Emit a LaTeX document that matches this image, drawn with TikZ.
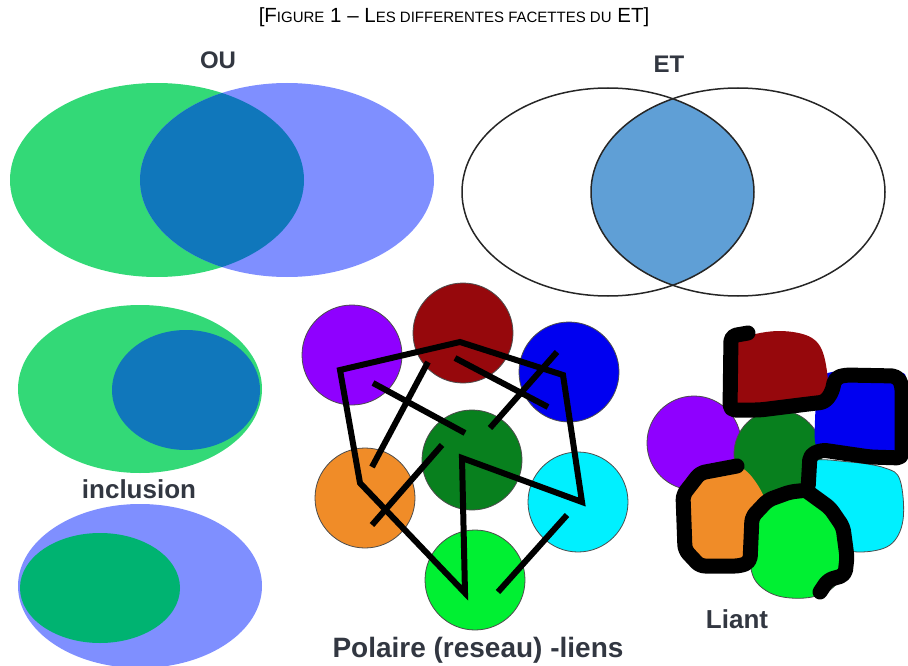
\documentclass[tikz,border=0pt]{standalone}
\usepackage{fontspec}
\setmainfont{Liberation Sans}
\definecolor{ougreen}{RGB}{51,217,119}
\definecolor{oublue}{RGB}{127,143,255}
\definecolor{ouover}{RGB}{16,119,187}
\definecolor{etfill}{RGB}{95,159,214}
\definecolor{botgreen}{RGB}{0,179,113}
\definecolor{cpurple}{RGB}{143,0,255}
\definecolor{cred}{RGB}{150,8,12}
\definecolor{cblue}{RGB}{0,0,240}
\definecolor{cdkgreen}{RGB}{8,128,30}
\definecolor{corange}{RGB}{240,140,40}
\definecolor{ccyan}{RGB}{0,240,255}
\definecolor{clgreen}{RGB}{0,240,50}
\definecolor{labelgray}{RGB}{50,55,65}
\begin{document}
\begin{tikzpicture}[x=1pt,y=-1pt,
  lbl/.style={font=\bfseries\fontsize{26}{28}\selectfont, text=labelgray, inner sep=0pt},
  ball/.style={circle, minimum size=100pt, inner sep=0pt, draw=black!70, line width=0.8pt},
  link/.style={line width=6pt, black, line join=miter, line cap=butt},
  glue/.style={line width=15pt, black, line join=round, line cap=round, rounded corners=5pt}]
\useasboundingbox (0,0) rectangle (908,666);
% title
\node[inner sep=0pt] (title) at (454,17) {\fontsize{20.5}{21}\selectfont [F{\fontsize{15}{16}\selectfont IGURE} 1 -- L{\fontsize{15}{16}\selectfont ES DIFFERENTES FACETTES DU} ET]};
% OU
\node[lbl, font=\bfseries\fontsize{24}{26}\selectfont] (ou) at (218,60) {OU};
\fill[ougreen] (157,180) ellipse [x radius=147pt, y radius=97pt];
\fill[oublue] (287,180) ellipse [x radius=147pt, y radius=97pt];
\begin{scope}
\clip (287,180) ellipse [x radius=147pt, y radius=97pt];
\fill[ouover] (157,180) ellipse [x radius=147pt, y radius=97pt];
\end{scope}
% ET
\node[lbl, font=\bfseries\fontsize{24}{26}\selectfont] (et) at (669,64) {ET};
\begin{scope}
\clip (738,192) ellipse [x radius=147pt, y radius=104pt];
\fill[etfill] (608,192) ellipse [x radius=146pt, y radius=104pt];
\end{scope}
\draw[line width=1.5pt, black!85] (608,192) ellipse [x radius=146pt, y radius=104pt];
\draw[line width=1.5pt, black!85] (738,192) ellipse [x radius=147pt, y radius=104pt];
% inclusion
\fill[ougreen] (140,389) ellipse [x radius=122pt, y radius=84pt];
\fill[ouover] (186,390) ellipse [x radius=74pt, y radius=60pt];
\node[lbl] (incl) at (139,489) {inclusion};
\fill[oublue] (140,586) ellipse [x radius=122pt, y radius=82pt];
\fill[botgreen] (100,588) ellipse [x radius=80pt, y radius=55pt];
% polar network
\node[ball, fill=cpurple] (pu) at (352,355) {};
\node[ball, fill=cred] (re) at (463,333) {};
\node[ball, fill=cblue] (bl) at (569,372) {};
\node[ball, fill=cdkgreen] (gr) at (472,460) {};
\node[ball, fill=corange] (or) at (365,498) {};
\node[ball, fill=ccyan] (cy) at (578,502) {};
\node[ball, fill=clgreen] (lg) at (475,580) {};
\coordinate (p1) at (340,370);
\coordinate (p2) at (460,342);
\coordinate (p3) at (563,375);
\coordinate (p4) at (582,502);
\coordinate (p5) at (462,458);
\coordinate (p6) at (465,593);
\coordinate (p7) at (360,483);
\draw[link] (p1) -- (p2) -- (p3) -- (p4) -- (p5) -- (p6) -- (p7) -- cycle;
\coordinate (a1) at (373,383); \coordinate (a2) at (465,433);
\coordinate (b1) at (455,358); \coordinate (b2) at (548,407);
\coordinate (c1) at (428,362); \coordinate (c2) at (372,467);
\coordinate (d1) at (557,352); \coordinate (d2) at (490,428);
\coordinate (e1) at (442,445); \coordinate (e2) at (372,525);
\coordinate (f1) at (567,515); \coordinate (f2) at (498,592);
\draw[link] (a1) -- (a2);
\draw[link] (b1) -- (b2);
\draw[link] (c1) -- (c2);
\draw[link] (d1) -- (d2);
\draw[link] (e1) -- (e2);
\draw[link] (f1) -- (f2);
\node[lbl, font=\bfseries\fontsize{28}{30}\selectfont] (pol) at (478,650) {Polaire (reseau) -liens};
% Liant
\fill[cpurple, draw=black!70, line width=0.8pt] (694,443) circle [radius=47pt];
\fill[cdkgreen, draw=black!70, line width=0.8pt] (778,454) circle [radius=44pt];
\fill[ccyan, draw=black!70, line width=0.8pt] plot[smooth cycle, tension=0.6] coordinates {(810,462) (850,462) (885,468) (900,480) (903,520) (890,545) (860,552) (835,545) (820,520) (812,490)};
\fill[cblue] plot[smooth cycle, tension=0.5] coordinates {(820,385) (832,372) (900,372) (905,390) (905,460) (870,460) (820,452) (815,420)};
\fill[cred] plot[smooth cycle, tension=0.6] coordinates {(730,412) (730,350) (745,337) (780,331) (812,338) (825,360) (826,400) (800,408) (760,412)};
\fill[corange] plot[smooth cycle, tension=0.6] coordinates {(685,480) (720,468) (745,470) (765,500) (758,520) (750,560) (715,565) (690,550) (683,515)};
\fill[clgreen, draw=black!70, line width=0.8pt] plot[smooth cycle, tension=0.6] coordinates {(755,525) (775,500) (808,495) (830,510) (840,535) (843,570) (830,590) (805,598) (775,595) (755,580) (750,555)};
\coordinate (g1) at (748,333);
\coordinate (g2) at (731,336);
\coordinate (g3) at (730,410);
\coordinate (g4) at (760,410);
\coordinate (g5) at (800,405);
\coordinate (g6) at (825,402);
\coordinate (g7) at (832,392);
\coordinate (g8) at (835,378);
\coordinate (g9) at (845,375);
\coordinate (g10) at (897,376);
\coordinate (g11) at (902,385);
\coordinate (g12) at (902,458);
\coordinate (g13) at (870,457);
\coordinate (g14) at (822,450);
\coordinate (g15) at (810,455);
\coordinate (g16) at (808,490);
\coordinate (h1) at (790,492);
\coordinate (h2) at (768,500);
\coordinate (h3) at (752,517);
\coordinate (h4) at (750,562);
\coordinate (h5) at (740,566);
\coordinate (h6) at (700,566);
\coordinate (h7) at (685,550);
\coordinate (h8) at (683,495);
\coordinate (h9) at (700,473);
\coordinate (h10) at (737,466);
\coordinate (k1) at (808,492);
\coordinate (k2) at (830,508);
\coordinate (k3) at (843,527);
\coordinate (k4) at (847,557);
\coordinate (k5) at (845,575);
\coordinate (k6) at (828,580);
\coordinate (k7) at (820,592);
\draw[glue] (g1) -- (g2) -- (g3) -- (g4) -- (g5) -- (g6) -- (g7) -- (g8) -- (g9) -- (g10) -- (g11) -- (g12) -- (g13) -- (g14) -- (g15) -- (g16) -- (h1) -- (h2) -- (h3) -- (h4) -- (h5) -- (h6) -- (h7) -- (h8) -- (h9) -- (h10);
\draw[glue] (k1) -- (k2) -- (k3) -- (k4) -- (k5) -- (k6) -- (k7);
\node[lbl] (liant) at (737,619) {Liant};
\end{tikzpicture}
\end{document}
